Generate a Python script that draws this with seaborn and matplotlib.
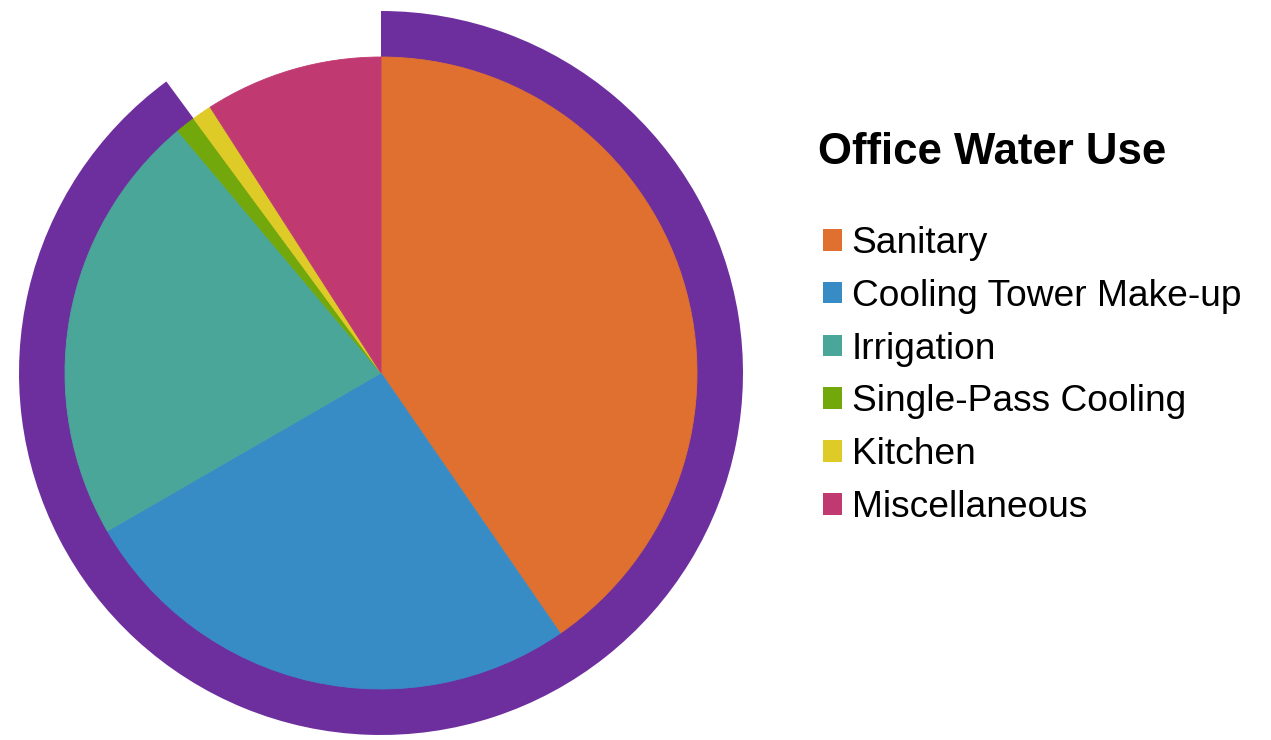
import matplotlib.pyplot as plt
import seaborn as sns

sns.set_theme(style="white")
plt.rcParams['font.family'] = ['Liberation Sans', 'DejaVu Sans']

# office water use shares (percent)
categories = ["Sanitary", "Cooling Tower Make-up", "Irrigation",
              "Single-Pass Cooling", "Kitchen", "Miscellaneous"]
shares = [40, 26, 22, 1, 1, 9]
colors = ["#E0702F", "#388CC6", "#4AA699", "#72A80B", "#DFCB27", "#C03A71"]

# outer ring: first four categories highlighted, rest left open
ring_parts = [sum(shares[:4]), sum(shares[4:])]
ring_colors = ["#6E2F9E", "none"]

fig = plt.figure(figsize=(12.71, 7.40), dpi=100)
ax = fig.add_axes([0, 0, 1, 1])

center = (381, 367)

ax.pie(ring_parts, colors=ring_colors, radius=362, center=center,
       startangle=90, counterclock=False, frame=True,
       wedgeprops=dict(width=47, linewidth=0))

wedges, _ = ax.pie(shares, colors=colors, radius=316, center=center,
                   startangle=90, counterclock=False, frame=True,
                   wedgeprops=dict(linewidth=0.6))
for w, c in zip(wedges, colors):
    w.set_edgecolor(c)

ax.set_xlim(0, 1271)
ax.set_ylim(0, 740)
ax.set_aspect("equal")
ax.axis("off")

fig.text(818, 740 - 153, "Office Water Use", transform=None,
         fontsize=31.5, fontweight="bold", va="center", ha="left", color="black")

leg = ax.legend(wedges, categories, loc="upper left",
                bbox_to_anchor=(823 / 1271, (740 - 226) / 740),
                bbox_transform=fig.transFigure, frameon=False,
                fontsize=26.7, handlelength=0.52, handleheight=0.52,
                handletextpad=0.25, labelspacing=0.48, borderpad=0,
                borderaxespad=0)
for h in leg.legend_handles:
    h.set_edgecolor("none")
for t in leg.get_texts():
    t.set_color("black")

plt.savefig("out.png", dpi=100)
